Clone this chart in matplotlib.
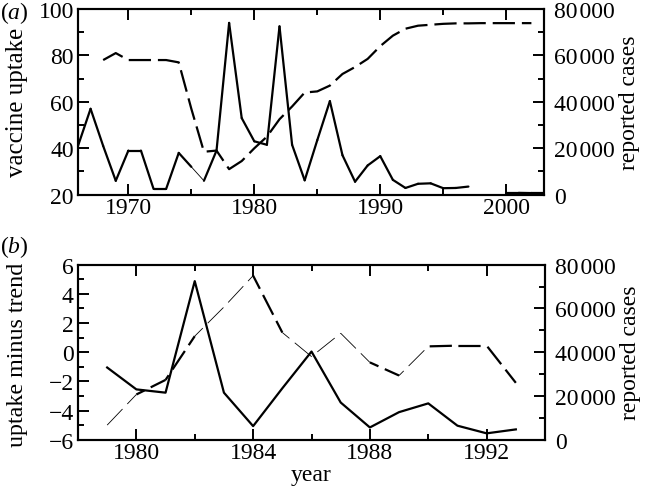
import numpy as np
import matplotlib
matplotlib.use("Agg")
import matplotlib.pyplot as plt
from matplotlib.ticker import MultipleLocator, FuncFormatter

# ---- data ----
years_a = list(range(1966, 2004))
cases = [21000, 37000, 21000, 6000, 19000, 19000, 2500, 2500, 18000, 12000,
         6000, 19000, 74000, 33000, 23000, 21500, 72500, 21500, 6200, 23500,
         40300, 17000, 5600, 12600, 16600, 6400, 2900, 4700, 4900, 2800,
         2900, 3500, np.nan, np.nan, 800, 800, 700, 700]

years_up = list(range(1968, 2003))
uptake = [78, 81, 78, 78, 78, 78, 77, 57, 38.5, 39,
          31, 34.5, 40, 45, 52.5, 58, 64, 64.5, 67, 72,
          75, 78.5, 84, 88.5, 91.5, 92.8, 93.2, 93.6, 93.8, 93.8,
          93.9, 93.9, 93.9, 93.9, 93.9]

years_b = list(range(1979, 1994))
detrended = [-5.0, -2.9, -1.9, 1.1, 3.1, 5.25, 1.35, -0.3, 1.3, -0.7,
             -1.6, 0.4, 0.45, 0.45, -2.1]
cases_b = [33000, 23000, 21500, 72500, 21500, 6200, 23500, 40300, 17000, 5600,
           12600, 16600, 6400, 2900, 4700]

# segments (by start year) that come out as hairlines in the original
thin_top = [1975]
thin_bot = [1979, 1982, 1983, 1985, 1986, 1987, 1989]

plt.rcParams['font.family'] = ['Liberation Serif', 'DejaVu Serif']
plt.rcParams['mathtext.fontset'] = 'custom'
plt.rcParams['mathtext.rm'] = 'Liberation Serif'
plt.rcParams['mathtext.it'] = 'Liberation Serif:italic'
plt.rcParams['lines.scale_dashes'] = False
plt.rcParams['axes.linewidth'] = 1.5

FS = 17
LABEL_FS = 18
DASH = (16, 5)
LW = 1.6
THIN = 0.6


def thousands(v, pos):
    return f"{v:,.0f}".replace(",", "\u200a")


def style_ticks(ax):
    ax.tick_params(which='both', direction='in', width=1.4, labelsize=FS)
    ax.tick_params(which='major', length=8)
    ax.tick_params(which='minor', length=4)


def seg_plot(ax, xs, ys, thin, dash=None):
    # draw segment by segment so some can be thin; keep the dash phase running
    pts = ax.transData.transform(np.column_stack([xs, ys]))
    seglen = np.hypot(np.diff(pts[:, 0]), np.diff(pts[:, 1])) * 72 / ax.figure.dpi
    period = sum(dash) if dash else 1
    offset = 0.0
    for i in range(len(xs) - 1):
        lw = THIN if xs[i] in thin else LW
        if dash:
            ax.plot(xs[i:i + 2], ys[i:i + 2], color='black', lw=lw,
                    linestyle=(offset % period, dash))
        else:
            ax.plot(xs[i:i + 2], ys[i:i + 2], color='black', lw=lw,
                    solid_capstyle='round')
        if np.isfinite(seglen[i]):
            offset += seglen[i]


fig = plt.figure(figsize=(6.45, 4.89), dpi=100)

# ---- panel (a) ----
ax1 = fig.add_axes([0.1209, 0.5998, 0.7225, 0.3798])
ax1.set_xlim(1966, 2003)
ax1.set_ylim(20, 100)
ax1.plot(years_up, uptake, color='black', lw=LW, dashes=DASH)
ax1.xaxis.set_major_locator(MultipleLocator(10))
ax1.xaxis.set_minor_locator(MultipleLocator(5))
ax1.yaxis.set_major_locator(MultipleLocator(20))
ax1.yaxis.set_minor_locator(MultipleLocator(10))
style_ticks(ax1)
ax1.tick_params(which='both', top=True, right=False)
ax1.tick_params(axis='x', pad=2)
ax1.tick_params(axis='y', pad=3)
ax1.set_ylabel('vaccine uptake', fontsize=LABEL_FS)
ax1.yaxis.set_label_coords(-0.107, 0.5)

ax1r = ax1.twinx()
ax1r.set_ylim(0, 80000)
seg_plot(ax1r, years_a, cases, thin_top)
ax1r.yaxis.set_major_locator(MultipleLocator(20000))
ax1r.yaxis.set_minor_locator(MultipleLocator(10000))
ax1r.yaxis.set_major_formatter(FuncFormatter(thousands))
style_ticks(ax1r)
ax1r.tick_params(axis='y', pad=7)
ax1r.set_ylabel('reported cases', fontsize=FS)
ax1r.yaxis.set_label_coords(1.16, 0.5)

# ---- panel (b) ----
ax2 = fig.add_axes([0.1209, 0.0988, 0.7241, 0.3578])
ax2.set_xlim(1978, 1994)
ax2.set_ylim(-6, 6)
seg_plot(ax2, years_b, detrended, thin_bot, dash=DASH)
ax2.xaxis.set_major_locator(MultipleLocator(4))
ax2.xaxis.set_minor_locator(MultipleLocator(2))
ax2.yaxis.set_major_locator(MultipleLocator(2))
ax2.yaxis.set_minor_locator(MultipleLocator(1))
ax2.yaxis.set_major_formatter(FuncFormatter(lambda v, p: f"{v:.0f}".replace("-", "\u2212")))
style_ticks(ax2)
ax2.tick_params(which='both', top=True, right=False)
ax2.tick_params(axis='x', pad=2)
ax2.tick_params(axis='y', pad=3)
ax2.set_ylabel('uptake minus trend', fontsize=17.3)
ax2.yaxis.set_label_coords(-0.107, 0.49)
ax2.set_xlabel('year', fontsize=FS)
ax2.xaxis.set_label_coords(0.5, -0.14)

ax2r = ax2.twinx()
ax2r.set_ylim(0, 80000)
ax2r.plot(years_b, cases_b, color='black', lw=LW)
ax2r.yaxis.set_major_locator(MultipleLocator(20000))
ax2r.yaxis.set_minor_locator(MultipleLocator(10000))
ax2r.yaxis.set_major_formatter(FuncFormatter(thousands))
style_ticks(ax2r)
ax2r.tick_params(axis='y', pad=7)
ax2r.set_ylabel('reported cases', fontsize=FS)
ax2r.yaxis.set_label_coords(1.16, 0.5)

# panel letters
fig.text(0.0, 0.999, r'($\mathit{a}$)', fontsize=FS, va='top', ha='left')
fig.text(0.0, 0.522, r'($\mathit{b}$)', fontsize=FS, va='top', ha='left')

fig.savefig('out.png', dpi=100)
